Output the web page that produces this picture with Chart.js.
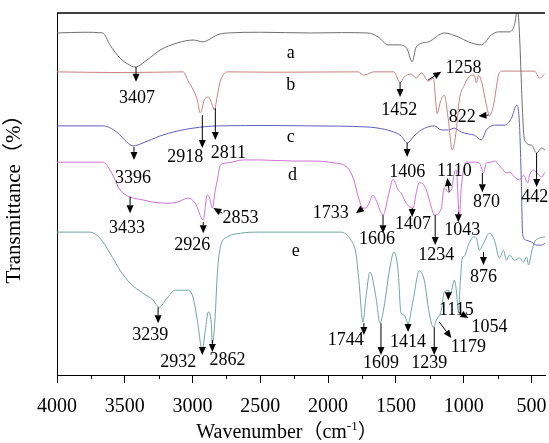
<!DOCTYPE html>
<html>
<head>
<meta charset="utf-8">
<script src="https://cdn.jsdelivr.net/npm/chart.js@4.4.0/dist/chart.umd.min.js"></script>
<style>
  html, body { margin: 0; padding: 0; background: #fff; }
</style>
</head>
<body>
<canvas id="ftir" width="549" height="443"></canvas>
<script>
// wavenumber (cm-1) and offset transmittance for each spectrum
var aWn = [4000, 3800, 3662, 3610, 3535, 3476, 3425, 3336, 3239, 3113, 2995, 2921, 2880, 2817, 2743, 2500, 2128, 1900, 1706, 1630, 1558, 1484, 1420, 1380, 1350, 1261, 1143, 1039, 965, 869, 795, 743, 662, 625, 603, 551, 499, 462, 425, 400];
var aT  = [94.6, 94.8, 94.6, 91.4, 87.8, 86.2, 85.4, 87.3, 90.0, 91.9, 92.7, 92.2, 92.8, 94.1, 94.6, 94.8, 94.6, 94.7, 94.6, 93.5, 91.4, 91.4, 90.5, 86.8, 90.8, 92.2, 94.6, 93.5, 92.2, 91.4, 94.1, 94.9, 94.9, 96.8, 101, 65.7, 64.3, 62.2, 63.5, 63.0];

var bWn = [4000, 3500, 3069, 3032, 2995, 2965, 2943, 2913, 2884, 2854, 2839, 2817, 2795, 2743, 2400, 1780, 1736, 1662, 1514, 1469, 1439, 1387, 1350, 1313, 1261, 1224, 1195, 1172, 1143, 1113, 1084, 1054, 1032, 995, 943, 921, 906, 891, 869, 832, 810, 780, 743, 721, 600, 477, 440, 403];
var bT  = [84.1, 83.9, 84.1, 81.6, 79.2, 76.5, 73.0, 76.5, 77.3, 75.1, 73.8, 77.8, 81.6, 84.1, 84.0, 84.1, 83.2, 84.1, 84.1, 81.1, 82.7, 83.5, 82.4, 83.8, 81.6, 82.4, 72.8, 76.0, 77.8, 71.1, 63.0, 68.4, 76.5, 80.5, 83.2, 83.2, 81.1, 83.2, 81.6, 75.1, 72.2, 75.1, 83.2, 84.3, 84.3, 84.3, 82.4, 83.5];

var cWn = [4000, 3662, 3558, 3484, 3439, 3365, 3239, 3113, 2995, 2817, 2400, 2128, 1706, 1632, 1536, 1462, 1417, 1365, 1313, 1217, 1165, 1113, 1069, 1017, 965, 921, 869, 832, 773, 699, 647, 610, 590, 575, 565, 536, 499, 462, 425, 400];
var cT  = [69.5, 69.5, 67.8, 65.1, 64.1, 64.9, 66.8, 68.1, 68.9, 69.5, 69.6, 69.5, 69.2, 68.9, 68.1, 66.8, 64.9, 66.8, 68.4, 69.5, 68.4, 68.4, 68.9, 67.8, 67.3, 67.0, 65.7, 68.4, 69.7, 69.7, 71.6, 75.1, 71.1, 55.0, 40.2, 38.6, 38.1, 37.3, 37.3, 37.8];

var dWn = [4000, 3662, 3600, 3535, 3461, 3365, 3291, 3187, 3113, 3032, 2980, 2921, 2892, 2877, 2854, 2832, 2817, 2795, 2743, 2624, 2498, 2254, 2128, 1957, 1854, 1810, 1775, 1743, 1721, 1699, 1669, 1647, 1595, 1551, 1521, 1484, 1462, 1424, 1373, 1350, 1328, 1313, 1276, 1239, 1217, 1165, 1143, 1113, 1091, 1069, 1054, 1032, 1017, 980, 921, 884, 854, 832, 795, 773, 721, 684, 662, 625, 588, 558, 528, 514, 484, 462, 425, 400];
var dT  = [59.7, 59.7, 57.0, 52.2, 50.3, 49.5, 48.9, 48.6, 48.9, 50.0, 48.6, 44.1, 50.8, 50.3, 47.3, 52.2, 54.9, 58.9, 59.5, 60.3, 60.3, 60.0, 60.0, 59.5, 58.1, 54.9, 50.0, 47.3, 47.3, 48.6, 50.8, 49.5, 45.4, 51.4, 55.1, 52.2, 51.4, 48.6, 47.3, 51.4, 54.1, 54.1, 52.2, 47.6, 45.4, 47.3, 52.7, 51.6, 52.2, 56.8, 57.6, 44.9, 53.0, 59.7, 59.7, 59.5, 56.8, 59.5, 59.7, 60.0, 58.1, 56.8, 57.0, 55.7, 54.9, 56.2, 54.1, 56.2, 57.6, 56.8, 55.7, 57.0];

var eWn = [4000, 3757, 3684, 3609, 3535, 3461, 3365, 3291, 3247, 3187, 3128, 3032, 2995, 2965, 2928, 2906, 2884, 2862, 2854, 2840, 2832, 2817, 2795, 2743, 2647, 2498, 2128, 1906, 1832, 1795, 1773, 1743, 1721, 1691, 1647, 1617, 1588, 1551, 1514, 1484, 1462, 1439, 1410, 1373, 1328, 1291, 1254, 1224, 1202, 1165, 1143, 1113, 1099, 1069, 1054, 1039, 1024, 1010, 995, 965, 928, 906, 884, 854, 810, 773, 736, 706, 684, 662, 625, 588, 558, 536, 521, 499, 477, 440, 400];
var eT  = [40.8, 40.8, 39.2, 35.1, 30.5, 27.0, 24.3, 22.4, 20.5, 23.0, 25.1, 25.1, 23.0, 17.0, 8.9, 14.3, 19.2, 16.2, 10.8, 14.3, 18.9, 29.7, 36.8, 39.5, 40.5, 40.8, 40.8, 40.8, 38.6, 35.1, 27.8, 16.5, 23.2, 30.0, 23.2, 16.2, 20.5, 29.7, 35.4, 30.5, 18.9, 18.4, 16.2, 22.4, 30.3, 27.8, 18.9, 15.1, 17.0, 19.7, 24.6, 25.1, 23.8, 27.8, 25.1, 19.2, 27.8, 33.8, 34.3, 37.3, 39.5, 39.2, 35.9, 37.8, 40.5, 38.6, 33.8, 35.9, 33.2, 34.6, 33.2, 33.8, 32.7, 34.1, 31.9, 35.4, 38.1, 39.2, 39.5];

var seriesNames = ['a', 'b', 'c', 'd', 'e'];
var seriesColors = ['#6e6e6e', '#c98080', '#5f5fc0', '#d070d8', '#6fa5a0'];
// where the a..e tags sit (wavenumber, transmittance)
var tagWn = [2276, 2276, 2276, 2262, 2239];
var tagT  = [89.2, 80.5, 66.5, 56.2, 35.7];

var tickValues = [4000, 3500, 3000, 2500, 2000, 1500, 1000, 500];
var minorTicks = [3750, 3250, 2750, 2250, 1750, 1250, 750];

// [label, labelWn, labelT, arrowFromWn, arrowFromT, arrowToWn, arrowToT]
var peakNotes = [
  ['3407', 3410, 77.0, 3417, 85.4, 3417, 81.4],
  ['2918', 3054, 61.1, 2928, 72.4, 2928, 63.5],
  ['2811', 2736, 62.2, 2832, 74.3, 2832, 65.7],
  ['3396', 3439, 55.4, 3432, 63.8, 3432, 60.3],
  ['1452', 1476, 73.8, 1469, 81.3, 1469, 77.3],
  ['1258', 1002, 85.1, 1262, 81.9, 1165, 84.1],
  ['822', 1010, 71.9, 817, 72.4, 891, 72.2],
  ['1406', 1417, 57.0, 1417, 64.9, 1417, 61.1],
  ['1110', 1069, 57.3, 1106, 51.6, 1121, 55.4],
  ['870', 832, 48.9, 862, 56.8, 862, 51.6],
  ['442', 476, 50.3, 462, 62.2, 462, 53.0],
  ['3433', 3484, 41.9, 3461, 50.3, 3461, 45.9],
  ['2926', 3002, 37.3, 2921, 43.5, 2921, 40.5],
  ['2853', 2647, 44.6, 2780, 45.9, 2847, 47.3],
  ['1733', 1980, 45.9, 1743, 47.3, 1795, 45.9],
  ['1606', 1639, 38.9, 1595, 45.4, 1595, 40.5],
  ['1407', 1373, 43.0, 1380, 47.3, 1380, 44.9],
  ['1234', 1202, 34.6, 1210, 45.4, 1210, 37.3],
  ['1043', 1010, 41.3, 1039, 46.2, 1039, 43.5],
  ['876', 854, 28.6, 854, 35.4, 854, 31.9],
  ['3239', 3313, 13.0, 3254, 20.5, 3254, 16.2],
  ['2932', 3106, 5.7, 2928, 8.9, 2928, 7.6],
  ['2862', 2743, 6.2, 2854, 11.6, 2854, 8.4],
  ['1744', 1869, 11.6, 1736, 16.2, 1736, 13.0],
  ['1609', 1610, 5.4, 1610, 16.2, 1610, 7.6],
  ['1414', 1410, 11.1, 1410, 16.2, 1410, 13.8],
  ['1239', 1254, 5.4, 1217, 15.1, 1217, 7.6],
  ['1179', 965, 9.7, 1180, 16.5, 1091, 12.2],
  ['1115', 1054, 19.7, 1113, 24.6, 1113, 22.4],
  ['1054', 810, 15.1, 1039, 19.2, 965, 17.6]
];

var serif = "'Liberation Serif', 'Times New Roman', 'Noto Sans CJK SC', serif";

function pts(wn, t) {
  return wn.map(function(w, i) { return {x: w, y: t[i]}; });
}

var allWn = [aWn, bWn, cWn, dWn, eWn];
var allT = [aT, bT, cT, dT, eT];
var datasets = seriesNames.map(function(n, i) {
  return {
    label: n,
    data: pts(allWn[i], allT[i]),
    borderColor: seriesColors[i],
    borderWidth: 1,
    pointRadius: 0,
    cubicInterpolationMode: 'monotone',
    fill: false
  };
});

function arrow(ctx, x1, y1, x2, y2) {
  var ang = Math.atan2(y2 - y1, x2 - x1);
  var len = 8, hw = 3.5;
  var bx = x2 - Math.cos(ang) * len, by = y2 - Math.sin(ang) * len;
  ctx.beginPath();
  ctx.moveTo(x1, y1);
  ctx.lineTo(bx, by);
  ctx.stroke();
  ctx.beginPath();
  ctx.moveTo(x2, y2);
  ctx.lineTo(bx - Math.sin(ang) * hw, by + Math.cos(ang) * hw);
  ctx.lineTo(bx + Math.sin(ang) * hw, by - Math.cos(ang) * hw);
  ctx.closePath();
  ctx.fill();
}

var decor = {
  id: 'decor',
  afterDraw: function(chart) {
    var ctx = chart.ctx, xs = chart.scales.x, ys = chart.scales.y, area = chart.chartArea;
    ctx.save();
    // top frame line
    ctx.strokeStyle = '#000';
    ctx.lineWidth = 1.5;
    ctx.beginPath();
    ctx.moveTo(area.left, area.top);
    ctx.lineTo(area.right, area.top);
    ctx.stroke();
    // minor ticks
    ctx.lineWidth = 1;
    minorTicks.forEach(function(v) {
      var px = Math.round(xs.getPixelForValue(v)) + 0.5;
      ctx.beginPath();
      ctx.moveTo(px, area.bottom);
      ctx.lineTo(px, area.bottom + 4);
      ctx.stroke();
    });
    // series tags
    ctx.fillStyle = '#000';
    ctx.font = '18px ' + serif;
    ctx.textAlign = 'center';
    ctx.textBaseline = 'middle';
    seriesNames.forEach(function(n, i) {
      ctx.fillText(n, xs.getPixelForValue(tagWn[i]), ys.getPixelForValue(tagT[i]));
    });
    // peak labels and arrows
    peakNotes.forEach(function(p) {
      ctx.fillText(p[0], xs.getPixelForValue(p[1]), ys.getPixelForValue(p[2]));
      arrow(ctx, xs.getPixelForValue(p[3]), ys.getPixelForValue(p[4]),
                 xs.getPixelForValue(p[5]), ys.getPixelForValue(p[6]));
    });
    // x axis title with superscript
    var base = chart.height - 5;
    var cx = (area.left + area.right) / 2 - 14;
    var s1 = 'Wavenumber（cm', s2 = '-1', s3 = '）';
    ctx.textAlign = 'left';
    ctx.textBaseline = 'alphabetic';
    ctx.font = '20px ' + serif;
    var w1 = ctx.measureText(s1).width, w3 = ctx.measureText(s3).width;
    ctx.font = '13px ' + serif;
    var w2 = ctx.measureText(s2).width;
    var x0 = cx - (w1 + w2 + w3) / 2;
    ctx.font = '20px ' + serif;
    ctx.fillText(s1, x0, base);
    ctx.font = '13px ' + serif;
    ctx.fillText(s2, x0 + w1, base - 8);
    ctx.font = '20px ' + serif;
    ctx.fillText(s3, x0 + w1 + w2, base);
    ctx.restore();
  }
};

new Chart(document.getElementById('ftir'), {
  type: 'line',
  data: { datasets: datasets },
  options: {
    responsive: false,
    animation: false,
    devicePixelRatio: 1,
    parsing: false,
    layout: { padding: { top: 13, right: 4, left: 0, bottom: 0 } },
    plugins: { legend: { display: false }, tooltip: { enabled: false } },
    scales: {
      x: {
        type: 'linear',
        reverse: true,
        min: 400,
        max: 4000,
        afterBuildTicks: function(s) { s.ticks = tickValues.map(function(v) { return {value: v}; }); },
        afterFit: function(s) { s.height = 68; s.paddingLeft = 0; s.paddingRight = 0; },
        ticks: {
          autoSkip: false,
          maxRotation: 0,
          padding: 12,
          color: '#000',
          font: { family: serif, size: 20 },
          callback: function(v) { return String(v); }
        },
        grid: { drawOnChartArea: false, tickLength: 8, color: '#000' },
        border: { color: '#000', width: 1 }
      },
      y: {
        min: 2.2,
        max: 100,
        afterFit: function(s) { s.width = 57; },
        ticks: { display: false },
        grid: { display: false },
        border: { color: '#000', width: 1 },
        title: {
          display: true,
          text: 'Transmittance（%）',
          color: '#000',
          font: { family: serif, size: 21 },
          padding: { top: 2, bottom: 0 }
        }
      }
    }
  },
  plugins: [decor]
});
</script>
</body>
</html>
